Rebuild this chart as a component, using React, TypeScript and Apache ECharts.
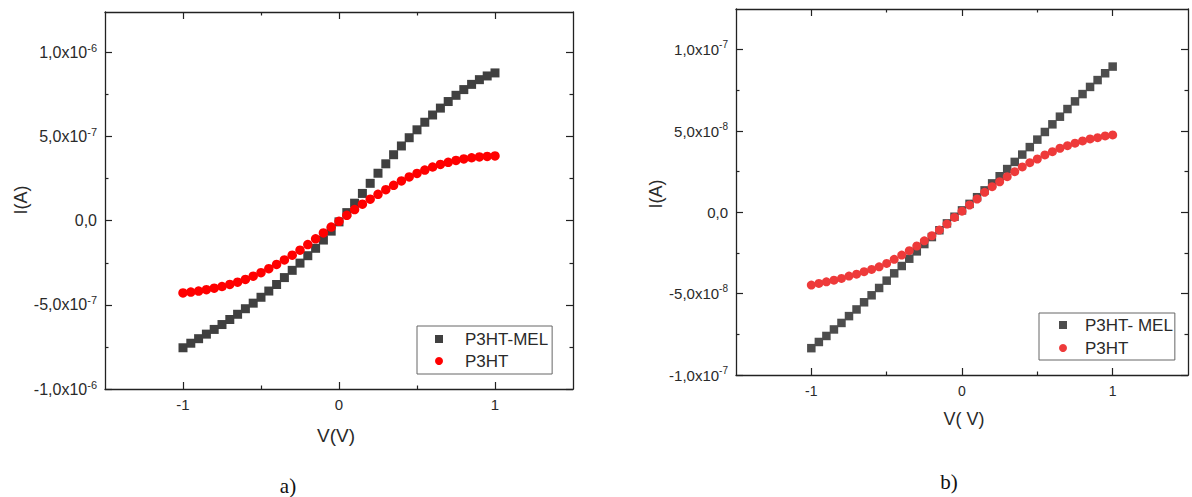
import React, { useEffect, useRef } from 'react';
import * as echarts from 'echarts';

// Voltage (V)
const voltage = [
  -1, -0.95, -0.9, -0.85, -0.8, -0.75, -0.7, -0.65, -0.6, -0.55, -0.5,
  -0.45, -0.4, -0.35, -0.3, -0.25, -0.2, -0.15, -0.1, -0.05, 0,
  0.05, 0.1, 0.15, 0.2, 0.25, 0.3, 0.35, 0.4, 0.45, 0.5,
  0.55, 0.6, 0.65, 0.7, 0.75, 0.8, 0.85, 0.9, 0.95, 1,
];

// Panel a) current, in units of 1e-7 A
const leftMel = [
  -7.55, -7.28, -7.01, -6.74, -6.46, -6.17, -5.87, -5.56, -5.23, -4.9, -4.55,
  -4.18, -3.79, -3.38, -2.95, -2.52, -2.08, -1.64, -1.15, -0.62, -0.07,
  0.48, 1.04, 1.62, 2.22, 2.82, 3.38, 3.92, 4.44, 4.93, 5.4,
  5.85, 6.28, 6.69, 7.08, 7.45, 7.79, 8.1, 8.38, 8.6, 8.78,
];
const leftP3ht = [
  -4.29, -4.24, -4.18, -4.1, -4.01, -3.91, -3.79, -3.65, -3.49, -3.3, -3.09,
  -2.85, -2.6, -2.33, -2.05, -1.75, -1.42, -1.08, -0.73, -0.38, -0.04,
  0.32, 0.66, 0.98, 1.28, 1.57, 1.84, 2.1, 2.36, 2.6, 2.81,
  3.01, 3.19, 3.34, 3.47, 3.58, 3.67, 3.74, 3.79, 3.82, 3.85,
];

// Panel b) current, in units of 1e-8 A
const rightMel = [
  -8.35, -7.97, -7.6, -7.2, -6.8, -6.38, -5.97, -5.53, -5.1, -4.65, -4.2,
  -3.75, -3.3, -2.85, -2.4, -1.95, -1.52, -1.1, -0.68, -0.27, 0.12,
  0.52, 0.93, 1.35, 1.78, 2.22, 2.66, 3.1, 3.55, 4.01, 4.47,
  4.94, 5.41, 5.88, 6.35, 6.82, 7.27, 7.71, 8.13, 8.55, 8.96,
];
const rightP3ht = [
  -4.47, -4.37, -4.27, -4.17, -4.06, -3.92, -3.8, -3.65, -3.51, -3.35, -3.14,
  -2.89, -2.63, -2.36, -2.07, -1.75, -1.44, -1.09, -0.72, -0.31, 0.07,
  0.45, 0.82, 1.23, 1.58, 1.88, 2.19, 2.5, 2.79, 3.05, 3.28,
  3.53, 3.73, 3.94, 4.1, 4.25, 4.39, 4.51, 4.59, 4.7, 4.76,
];

const xTicks = [-1, 0, 1];
const xTickLabels = ['-1', '0', '1'];
const xMinor = [-0.5, 0.5];

const leftYTicks = [-1e-6, -5e-7, 0, 5e-7, 1e-6];
const leftYTickLabels = [
  ['-1,0x10', '-6'], ['-5,0x10', '-7'], ['0,0', ''], ['5,0x10', '-7'], ['1,0x10', '-6'],
];
const leftYMinor = [-7.5e-7, -2.5e-7, 2.5e-7, 7.5e-7];

const rightYTicks = [-1e-7, -5e-8, 0, 5e-8, 1e-7];
const rightYTickLabels = [
  ['-1,0x10', '-7'], ['-5,0x10', '-8'], ['0,0', ''], ['5,0x10', '-8'], ['1,0x10', '-7'],
];
const rightYMinor = [-7.5e-8, -2.5e-8, 2.5e-8, 7.5e-8];

const FONT = '"Liberation Sans", Arial, Helvetica, sans-serif';
const AX = '#222';
const TXT = '#2a2a2a';

function nearestIndex(arr: number[], v: number) {
  let best = 0;
  for (let i = 1; i < arr.length; i++) {
    if (Math.abs(arr[i] - v) < Math.abs(arr[best] - v)) best = i;
  }
  return best;
}

function makeXAxes(g: number, fontSize: number, margin: number) {
  const base: any = {
    type: 'value', gridIndex: g, min: -1.5, max: 1.5,
    splitLine: { show: false },
  };
  const line = { show: true, onZero: false, lineStyle: { color: AX, width: 1.3 } };
  const tickStyle = { color: AX, width: 1.2 };
  return [
    {
      ...base, position: 'bottom', axisLine: line,
      axisTick: { show: true, inside: true, length: 7, customValues: xTicks, lineStyle: tickStyle },
      axisLabel: {
        show: true, customValues: xTicks, margin, fontSize, fontFamily: FONT, color: TXT,
        formatter: (v: number) => xTickLabels[nearestIndex(xTicks, v)],
      },
    },
    {
      ...base, position: 'bottom', axisLine: { show: false, onZero: false },
      axisTick: { show: true, inside: true, length: 3.5, customValues: xMinor, lineStyle: tickStyle },
      axisLabel: { show: false },
    },
    {
      ...base, position: 'top', axisLine: line,
      axisTick: { show: true, inside: true, length: 7, customValues: xTicks, lineStyle: tickStyle },
      axisLabel: { show: false },
    },
    {
      ...base, position: 'top', axisLine: { show: false, onZero: false },
      axisTick: { show: true, inside: true, length: 3.5, customValues: xMinor, lineStyle: tickStyle },
      axisLabel: { show: false },
    },
  ];
}

function makeYAxes(g: number, min: number, max: number, ticks: number[], labels: string[][], minor: number[], fontSize: number) {
  const base: any = { type: 'value', gridIndex: g, min, max, splitLine: { show: false } };
  const line = { show: true, onZero: false, lineStyle: { color: AX, width: 1.3 } };
  const tickStyle = { color: AX, width: 1.2 };
  return [
    {
      ...base, position: 'left', axisLine: line,
      axisTick: { show: true, inside: true, length: 7, customValues: ticks, lineStyle: tickStyle },
      axisLabel: {
        show: true, customValues: ticks, margin: 8,
        formatter: (v: number) => {
          const l = labels[nearestIndex(ticks, v)];
          return l[1] ? `{m|${l[0]}}{e|${l[1]}}` : `{m|${l[0]}}`;
        },
        rich: {
          m: { fontSize, fontFamily: FONT, color: TXT, lineHeight: 20 },
          e: { fontSize: Math.round(fontSize * 0.68), fontFamily: FONT, color: TXT, lineHeight: 11, verticalAlign: 'top' },
        },
      },
    },
    {
      ...base, position: 'left', axisLine: { show: false, onZero: false },
      axisTick: { show: true, inside: true, length: 3.5, customValues: minor, lineStyle: tickStyle },
      axisLabel: { show: false },
    },
    {
      ...base, position: 'right', axisLine: line,
      axisTick: { show: true, inside: true, length: 7, customValues: ticks, lineStyle: tickStyle },
      axisLabel: { show: false },
    },
    {
      ...base, position: 'right', axisLine: { show: false, onZero: false },
      axisTick: { show: true, inside: true, length: 3.5, customValues: minor, lineStyle: tickStyle },
      axisLabel: { show: false },
    },
  ];
}

export default function App() {
  const ref = useRef<HTMLDivElement>(null);
  useEffect(() => {
    if (!ref.current) return;
    const chart = echarts.init(ref.current, undefined, { renderer: 'svg' });
    const lMel = voltage.map((v, i) => [v, leftMel[i] * 1e-7]);
    const lP = voltage.map((v, i) => [v, leftP3ht[i] * 1e-7]);
    const rMel = voltage.map((v, i) => [v, rightMel[i] * 1e-8]);
    const rP = voltage.map((v, i) => [v, rightP3ht[i] * 1e-8]);
    const legendText = { fontSize: 17, fontFamily: FONT, color: TXT, lineHeight: 18 };
    chart.setOption({
      animation: false,
      backgroundColor: '#ffffff',
      grid: [
        { left: 105, top: 12, width: 468, height: 377, containLabel: false },
        { left: 736, top: 9, width: 452, height: 366, containLabel: false },
      ],
      xAxis: [...makeXAxes(0, 15, 8), ...makeXAxes(1, 14, 9)],
      yAxis: [
        ...makeYAxes(0, -1e-6, 1.24e-6, leftYTicks, leftYTickLabels, leftYMinor, 16),
        ...makeYAxes(1, -1e-7, 1.25e-7, rightYTicks, rightYTickLabels, rightYMinor, 15),
      ],
      legend: [
        {
          orient: 'vertical', left: 417, top: 326, selectedMode: false,
          borderColor: '#666', borderWidth: 1, borderRadius: 0,
          padding: [4, 4, 4, 18], itemGap: 4, itemWidth: 8, itemHeight: 8,
          textStyle: { ...legendText, padding: [0, 0, 0, 17] },
          data: [
            { name: 'P3HT-MEL', icon: 'rect', itemStyle: { color: '#404040', opacity: 1 } },
            { name: 'P3HT', icon: 'circle', itemStyle: { color: '#ff0000', opacity: 1 } },
          ],
        },
        {
          orient: 'vertical', left: 1039, top: 313, selectedMode: false,
          borderColor: '#666', borderWidth: 1, borderRadius: 0,
          padding: [3, 2, 3, 20], itemGap: 5, itemWidth: 8, itemHeight: 8,
          textStyle: { ...legendText, padding: [0, 0, 0, 13] },
          data: [
            { name: 'P3HT- MEL', icon: 'rect', itemStyle: { color: '#4d4d4d', opacity: 1 } },
            { name: 'P3HT', icon: 'circle', itemStyle: { color: '#ee3a3a', opacity: 1 } },
          ],
        },
      ],
      series: [
        {
          name: 'P3HT-MEL', type: 'scatter', xAxisIndex: 0, yAxisIndex: 0,
          symbol: 'rect', symbolSize: 9, itemStyle: { color: '#404040', opacity: 1 }, data: lMel,
        },
        {
          name: 'P3HT', type: 'scatter', xAxisIndex: 0, yAxisIndex: 0,
          symbol: 'circle', symbolSize: 9.5, itemStyle: { color: '#ff0000', opacity: 1 }, data: lP,
        },
        {
          name: 'P3HT- MEL', type: 'scatter', xAxisIndex: 4, yAxisIndex: 4,
          symbol: 'rect', symbolSize: 8.5, itemStyle: { color: '#4d4d4d', opacity: 1 }, data: rMel,
        },
        {
          name: 'P3HT', type: 'scatter', xAxisIndex: 4, yAxisIndex: 4,
          symbol: 'circle', symbolSize: 9, itemStyle: { color: '#ee3a3a', opacity: 1 }, data: rP,
        },
      ],
      graphic: [
        {
          type: 'text', x: 21, y: 200, rotation: Math.PI / 2,
          style: { text: 'I(A)', fontSize: 18, fontFamily: FONT, fill: TXT, align: 'center', verticalAlign: 'middle' },
        },
        {
          type: 'text', x: 336, y: 435,
          style: { text: 'V(V)', fontSize: 19, fontFamily: FONT, fill: TXT, align: 'center', verticalAlign: 'middle' },
        },
        {
          type: 'text', x: 288, y: 486,
          style: { text: 'a)', fontSize: 21, fontFamily: '"Liberation Serif", "Times New Roman", serif', fill: '#111', align: 'center', verticalAlign: 'middle' },
        },
        {
          type: 'text', x: 656, y: 194, rotation: Math.PI / 2,
          style: { text: 'I(A)', fontSize: 18, fontFamily: FONT, fill: TXT, align: 'center', verticalAlign: 'middle' },
        },
        {
          type: 'text', x: 964, y: 419,
          style: { text: 'V( V)', fontSize: 18, fontFamily: FONT, fill: TXT, align: 'center', verticalAlign: 'middle' },
        },
        {
          type: 'text', x: 949, y: 482,
          style: { text: 'b)', fontSize: 21, fontFamily: '"Liberation Serif", "Times New Roman", serif', fill: '#111', align: 'center', verticalAlign: 'middle' },
        },
      ],
    });
    return () => chart.dispose();
  }, []);
  return <div ref={ref} style={{ position: 'absolute', left: 0, top: 0, width: 1192, height: 497 }} />;
}
